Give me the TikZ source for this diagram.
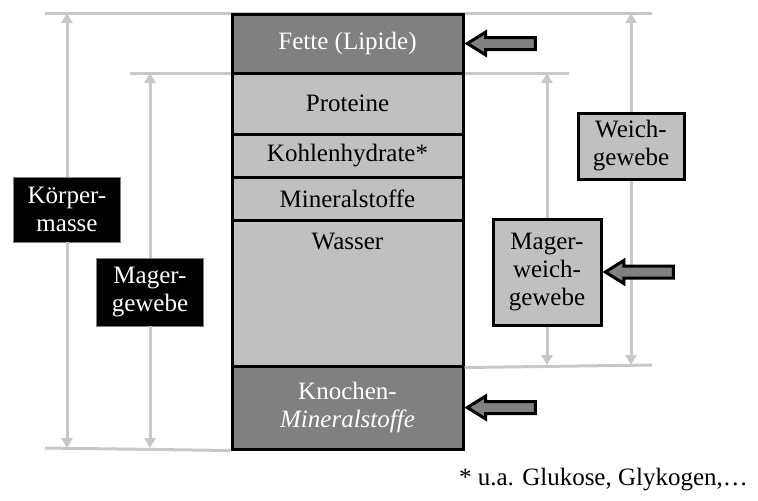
\documentclass[tikz,border=0pt]{standalone}
\usepackage{fontspec}
\setmainfont{Liberation Serif}
\usetikzlibrary{arrows.meta,shapes.arrows}
\definecolor{fettGrau}{RGB}{128,128,128}
\definecolor{zellGrau}{RGB}{192,192,192}
\definecolor{linienGrau}{RGB}{200,200,200}

\begin{document}
\begin{tikzpicture}[x=0.5pt,y=-0.5pt,font=\fontsize{12.5}{14}\selectfont]
  \tikzstyle{schicht} = [draw=black, line width=1.5pt, minimum width=115.5pt, inner sep=0pt, align=center]
  \tikzstyle{hilfslinie} = [draw=linienGrau, line width=1.5pt]
  \tikzstyle{masspfeil} = [draw=linienGrau, line width=1.5pt, -{Triangle[length=5pt,width=5.5pt]}]
  \tikzstyle{dunkelbox} = [draw=gray, fill=black, text=white, line width=0.4pt, minimum width=53.5pt, inner sep=1pt, align=center]
  \tikzstyle{hellbox} = [draw=black, fill=zellGrau, line width=1.5pt, inner sep=1pt, align=center]
  \tikzstyle{blockpfeil} = [single arrow, shape border rotate=180, draw=black, fill=fettGrau, line width=1.5pt, minimum height=34pt, inner sep=2.25pt, single arrow head extend=2.75pt, single arrow tip angle=64, anchor=tip]
  \useasboundingbox (0,0) rectangle (758,500);

  % Hilfslinien
  \coordinate (obenL) at (45,13);
  \coordinate (obenR) at (652,13);
  \coordinate (mitteL) at (130,73);
  \coordinate (mitteR) at (569,73);
  \coordinate (untenL) at (45,448);
  \coordinate (rechtsR) at (652,365);
  \draw[hilfslinie] (obenL) -- (obenR);
  \draw[hilfslinie] (mitteL) -- (mitteR);

  % Saeule
  \node[schicht, fill=fettGrau, text=white, minimum height=29.5pt] (fette) at (347.5,43.5) {Fette (Lipide)};
  \node[schicht, fill=zellGrau, minimum height=30.5pt] (proteine) at (347.5,103.5) {Proteine};
  \node[schicht, fill=zellGrau, minimum height=21.5pt] (kohlen) at (347.5,155.5) {Kohlenhydrate*};
  \node[schicht, fill=zellGrau, minimum height=21.5pt] (mineral) at (347.5,198.5) {Mineralstoffe};
  \node[schicht, fill=zellGrau, minimum height=73pt,
        label={[anchor=center, yshift=-11.5pt]north:Wasser}] (wasser) at (347.5,293) {};
  \node[schicht, fill=fettGrau, text=white, minimum height=41.5pt] (knochen) at (347.5,407.5) {Knochen-\\\textit{Mineralstoffe}};
  \draw[hilfslinie] (untenL) -- (knochen.south west);
  \draw[hilfslinie] (wasser.south east) -- (rechtsR);

  % Beschriftungen
  \node[dunkelbox, minimum height=32.5pt] (koerper) at (67,209.5) {Körper-\\masse};
  \node[dunkelbox, minimum height=34pt] (mager) at (150,292) {Mager-\\gewebe};
  \node[hellbox, minimum width=53pt, minimum height=33pt] (weich) at (631,146) {Weich-\\gewebe};
  \node[hellbox, minimum width=54pt, minimum height=53pt] (magerweich) at (547,272) {Mager-\\weich-\\gewebe};

  \draw[masspfeil] (koerper.north) -- (koerper.north |- obenL);
  \draw[masspfeil] (koerper.south) -- (koerper.south |- untenL);
  \draw[masspfeil] (mager.north) -- (mager.north |- mitteL);
  \draw[masspfeil] (mager.south) -- (mager.south |- untenL);
  \draw[masspfeil] (weich.north) -- (weich.north |- obenL);
  \draw[masspfeil] (weich.south) -- (weich.south |- rechtsR);
  \draw[masspfeil] (magerweich.north) -- (magerweich.north |- mitteL);
  \draw[masspfeil] (magerweich.south) -- (magerweich.south |- rechtsR);

  % Pfeile
  \node[blockpfeil] (pfeilfett) at (fette.east) {};
  \node[blockpfeil] (pfeilknochen) at (knochen.east) {};
  \node[blockpfeil] (pfeilweich) at (magerweich.east) {};

  \node[anchor=east] (fussnote) at (755,480) {* u.a. Glukose, Glykogen,…};
\end{tikzpicture}
\end{document}
